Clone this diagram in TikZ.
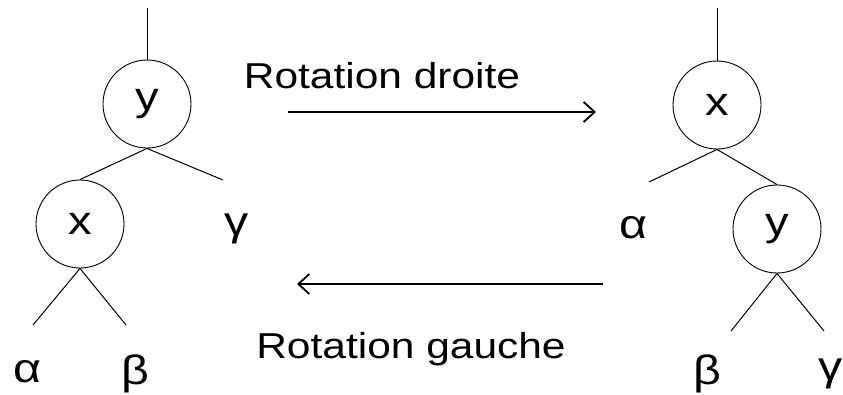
\documentclass[tikz,border=0pt]{standalone}
\usepackage{fontspec}
\newfontfamily\labelfont[FakeStretch=1.18]{Liberation Sans}
\usetikzlibrary{arrows.meta, positioning}

\begin{document}
\begin{tikzpicture}[
  x=1pt, y=-1pt,
  every node/.style={font=\labelfont\fontsize{36}{40}\selectfont},
  key/.style={circle, draw, line width=0.9pt, minimum size=88pt, inner sep=0pt,
    font=\labelfont\fontsize{40}{44}\selectfont},
  leaf/.style={inner sep=0pt, font=\labelfont\fontsize{41}{44}\selectfont},
  branch/.style={line width=1pt},
  arrow/.style={line width=1.8pt, -{Straight Barb[length=11pt,width=20pt,line width=1.8pt]}}
]
\useasboundingbox (0,0) rectangle (843,394);

% Left tree
\node[key] (ly) at (147,104) {y};
\node[key] (lx) at (80,224) {x};
\coordinate (lroot) at (147,8);
\coordinate (lg) at (223,180);
\coordinate (la) at (33,325);
\coordinate (lb) at (126,325);
\node[leaf] (lalpha) at (27,372) {α};
\node[leaf] (lbeta) at (135,374) {β};
\node[leaf] (lgamma) at (237,229) {γ};

\draw[branch] (lroot) -- (ly.north);
\draw[branch] (ly.south) -- (lx.north);
\draw[branch] (ly.south) -- (lg);
\draw[branch] (lx.south) -- (la);
\draw[branch] (lx.south) -- (lb);

% Right tree
\node[key] (rx) at (717,105) {x};
\node[key] (ry) at (777,229) {y};
\coordinate (rroot) at (717,8);
\coordinate (ra) at (649,182);
\coordinate (rb) at (731,331);
\coordinate (rg) at (824,331);
\node[leaf] (ralpha) at (633,228) {α};
\node[leaf] (rbeta) at (707,374) {β};
\node[leaf] (rgamma) at (831,374) {γ};

\draw[branch] (rroot) -- (rx.north);
\draw[branch] (rx.south) -- (ra);
\draw[branch] (rx.south) -- (ry.north);
\draw[branch] (ry.south) -- (rb);
\draw[branch] (ry.south) -- (rg);

% Rotations
\coordinate (d1) at (288,112);
\coordinate (d2) at (596,112);
\coordinate (g1) at (603,284);
\coordinate (g2) at (297,284);
\node[anchor=base] (droite) at (382,88) {Rotation droite};
\node[anchor=base] (gauche) at (411,358) {Rotation gauche};

\draw[arrow] (d1) -- (d2);
\draw[arrow] (g1) -- (g2);

\end{tikzpicture}
\end{document}
